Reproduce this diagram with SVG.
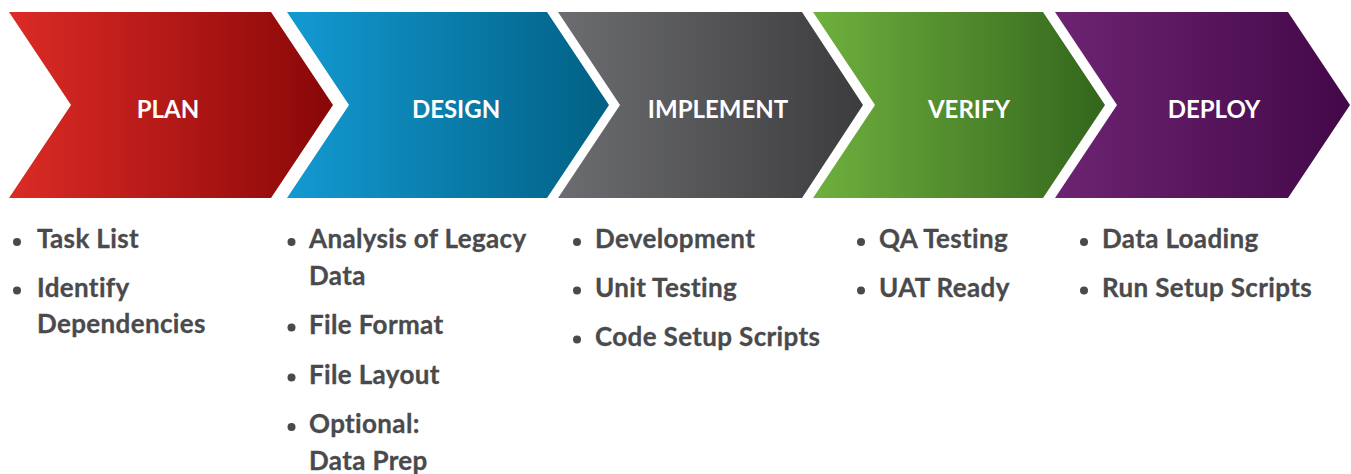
<svg xmlns="http://www.w3.org/2000/svg" width="1351" height="474" viewBox="0 0 1351 474">
<defs>
<linearGradient id="gPlan" x1="0" y1="0" x2="1" y2="0"><stop offset="0" stop-color="#DC2B26"/><stop offset="1" stop-color="#890707"/></linearGradient>
<linearGradient id="gDesign" x1="0" y1="0" x2="1" y2="0"><stop offset="0" stop-color="#139AD2"/><stop offset="1" stop-color="#016084"/></linearGradient>
<linearGradient id="gImpl" x1="0" y1="0" x2="1" y2="0"><stop offset="0" stop-color="#6C6D70"/><stop offset="1" stop-color="#3C3C3E"/></linearGradient>
<linearGradient id="gVerify" x1="0" y1="0" x2="1" y2="0"><stop offset="0" stop-color="#6FB03E"/><stop offset="1" stop-color="#33661C"/></linearGradient>
<linearGradient id="gDeploy" x1="0" y1="0" x2="1" y2="0"><stop offset="0" stop-color="#6D2472"/><stop offset="1" stop-color="#430848"/></linearGradient>
</defs>
<style>
.hd{font-family:Lato,"Open Sans",sans-serif;font-weight:700;font-size:24px;fill:#ffffff;text-anchor:middle}
.it{font-family:Lato,"Open Sans",sans-serif;font-weight:700;font-size:26px;letter-spacing:0.35px;fill:#4A4A4C;stroke:#4A4A4C;stroke-width:0.3px}
.dot{fill:#4A4A4C}
</style>
<g id="plan">
<polygon points="9,12 271,12 333,105 271,198 9,198 71,105" fill="url(#gPlan)"/>
<text class="hd" x="168" y="118">PLAN</text>
<circle class="dot" cx="17" cy="242" r="4"/><text class="it" x="37" y="248">Task List</text>
<circle class="dot" cx="17" cy="290.5" r="4"/><text class="it" x="37" y="296.5">Identify</text>
<text class="it" x="37" y="333">Dependencies</text>
</g>
<g id="design">
<polygon points="287,12 547,12 609,105 547,198 287,198 349,105" fill="url(#gDesign)"/>
<text class="hd" x="456" y="118">DESIGN</text>
<circle class="dot" cx="291.5" cy="242" r="4"/><text class="it" x="309" y="248">Analysis of Legacy</text>
<text class="it" x="309" y="284.5">Data</text>
<circle class="dot" cx="291.5" cy="327.5" r="4"/><text class="it" x="309" y="333.5">File Format</text>
<circle class="dot" cx="291.5" cy="377.5" r="4"/><text class="it" x="309" y="383.5">File Layout</text>
<circle class="dot" cx="291.5" cy="427" r="4"/><text class="it" x="309" y="433">Optional:</text>
<text class="it" x="309" y="469.5">Data Prep</text>
</g>
<g id="implement">
<polygon points="558,12 802,12 863,105 802,198 558,198 620,105" fill="url(#gImpl)"/>
<text class="hd" x="718" y="118">IMPLEMENT</text>
<circle class="dot" cx="577" cy="242" r="4"/><text class="it" x="595" y="248">Development</text>
<circle class="dot" cx="577" cy="290.5" r="4"/><text class="it" x="595" y="296.5">Unit Testing</text>
<circle class="dot" cx="577" cy="339.5" r="4"/><text class="it" x="595" y="345.5">Code Setup Scripts</text>
</g>
<g id="verify">
<polygon points="813,12 1043,12 1105,105 1043,198 813,198 875,105" fill="url(#gVerify)"/>
<text class="hd" x="969" y="118">VERIFY</text>
<circle class="dot" cx="861" cy="242" r="4"/><text class="it" x="879" y="248">QA Testing</text>
<circle class="dot" cx="861" cy="290.5" r="4"/><text class="it" x="879" y="296.5">UAT Ready</text>
</g>
<g id="deploy">
<polygon points="1055,12 1288,12 1350,105 1288,198 1055,198 1117,105" fill="url(#gDeploy)"/>
<text class="hd" x="1214" y="118">DEPLOY</text>
<circle class="dot" cx="1084" cy="242" r="4"/><text class="it" x="1102" y="248">Data Loading</text>
<circle class="dot" cx="1084" cy="290.5" r="4"/><text class="it" x="1102" y="296.5">Run Setup Scripts</text>
</g>
<g id="connectors"></g>
</svg>
